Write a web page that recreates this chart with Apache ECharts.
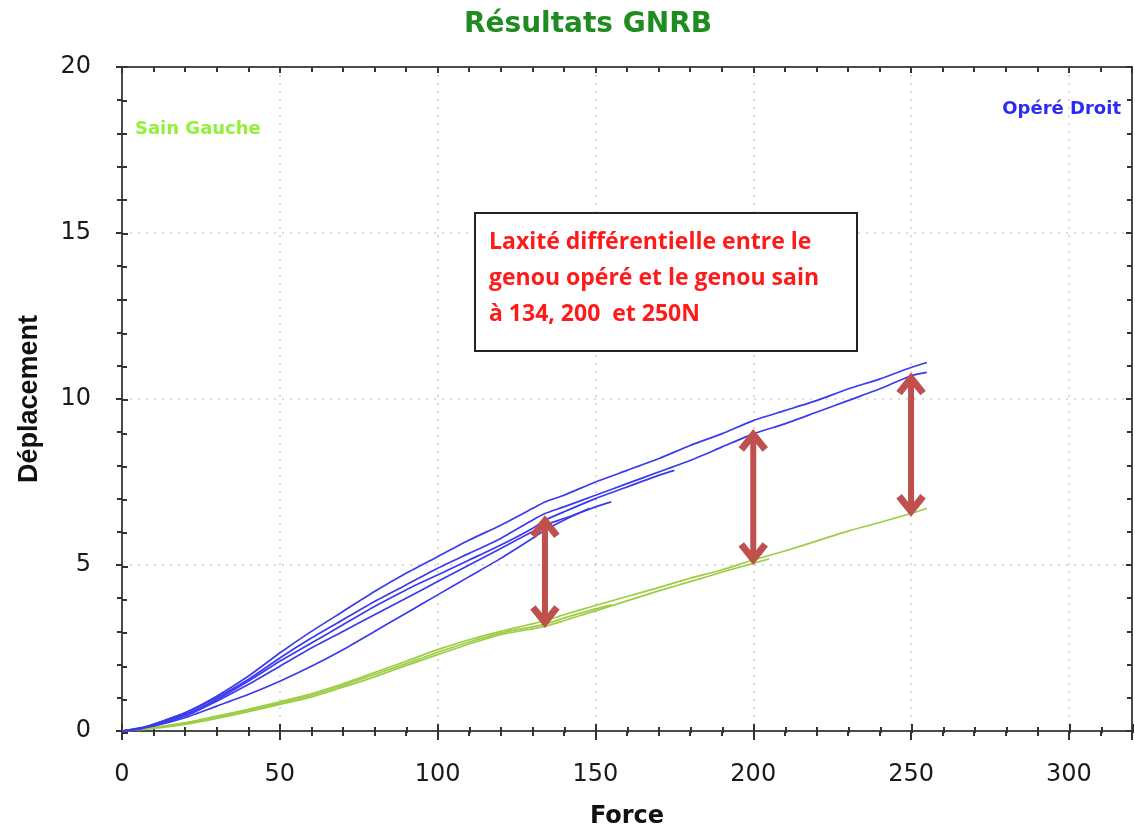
<!DOCTYPE html>
<html>
<head>
<meta charset="utf-8">
<style>
html,body{margin:0;padding:0;background:#fff;}
#c{width:1135px;height:834px;}
</style>
<script src="https://cdn.jsdelivr.net/npm/echarts@6/dist/echarts.min.js"></script>
</head>
<body>
<div id="c"></div>
<script>
// ---- data (Force [N], Déplacement [mm]) ----
const opereA = [[0,0],[5,0.05],[10,0.2],[20,0.55],[30,1.05],[40,1.65],[50,2.35],[60,3.0],[70,3.6],[80,4.2],[90,4.75],[100,5.25],[110,5.75],[120,6.2],[130,6.7],[134,6.9],[140,7.1],[150,7.5],[160,7.85],[170,8.2],[180,8.6],[190,8.95],[200,9.35],[210,9.65],[220,9.95],[230,10.3],[240,10.6],[250,10.95],[255,11.1]];
const opereB = [[0,0],[5,0.05],[10,0.2],[20,0.55],[30,1.0],[40,1.55],[50,2.2],[60,2.8],[70,3.35],[80,3.9],[90,4.4],[100,4.9],[110,5.35],[120,5.8],[130,6.35],[134,6.55],[140,6.75],[150,7.1],[160,7.45],[170,7.8],[180,8.15],[190,8.55],[200,8.95],[210,9.25],[220,9.6],[230,9.95],[240,10.3],[250,10.7],[255,10.8]];
const opereC = [[0,0],[10,0.18],[20,0.5],[30,0.95],[40,1.5],[50,2.1],[60,2.65],[70,3.2],[80,3.75],[90,4.25],[100,4.7],[110,5.15],[120,5.6],[130,6.1],[134,6.35],[140,6.6],[150,7.0],[160,7.35],[170,7.7],[175,7.85]];
const opereD = [[0,0],[10,0.15],[20,0.45],[30,0.9],[40,1.4],[50,1.95],[60,2.5],[70,3.0],[80,3.5],[90,4.0],[100,4.5],[110,5.0],[120,5.5],[130,6.0],[134,6.2],[140,6.4],[150,6.75],[155,6.9]];
const opereE = [[0,0],[10,0.15],[20,0.4],[30,0.75],[40,1.1],[50,1.5],[60,1.95],[70,2.45],[80,3.0],[90,3.55],[100,4.1],[110,4.65],[120,5.2],[130,5.8],[134,6.05],[140,6.35],[148,6.7]];
const sainA = [[0,0],[10,0.1],[20,0.25],[30,0.45],[40,0.65],[50,0.88],[60,1.12],[70,1.42],[80,1.76],[90,2.1],[100,2.45],[110,2.75],[120,3.0],[134,3.32],[140,3.5],[150,3.78],[160,4.05],[170,4.32],[180,4.6],[190,4.85],[200,5.15],[210,5.42],[220,5.72],[230,6.02],[240,6.28],[250,6.55],[255,6.7]];
const sainB = [[0,0],[10,0.08],[20,0.2],[30,0.38],[40,0.58],[50,0.8],[60,1.02],[70,1.32],[80,1.63],[90,1.97],[100,2.3],[110,2.62],[120,2.9],[134,3.15],[140,3.32],[150,3.62],[160,3.92],[170,4.22],[180,4.5],[190,4.78],[200,5.05],[205,5.18]];
const sainC = [[0,0],[10,0.1],[20,0.22],[30,0.42],[40,0.62],[50,0.84],[60,1.07],[70,1.37],[80,1.7],[90,2.03],[100,2.37],[110,2.68],[120,2.95],[134,3.22],[140,3.4],[150,3.68],[155,3.8]];
const arrowForces = [134, 200, 250];
const arrowLow = [3.15, 5.05, 6.5];
const arrowHigh = [6.45, 9.05, 10.75];
const xTicks = [0, 50, 100, 150, 200, 250, 300];
const yTicks = [0, 5, 10, 15, 20];

const titleText = 'Résultats GNRB';
const xName = 'Force';
const yName = 'Déplacement';
const labelSain = 'Sain Gauche';
const labelOpere = 'Opéré Droit';
const noteLines = ['Laxité différentielle entre le', 'genou opéré et le genou sain', 'à 134, 200  et 250N'];

const chart = echarts.init(document.getElementById('c'), null, {renderer: 'canvas'});

const G = {left: 122, top: 67, width: 1011, height: 666};
const axisCol = '#4a4a4a';
const xMin = 0, xMax = 320, yMin = 0, yMax = 20;

function xAx(pos, inside, labels, len, mlen, grid, line) {
  return {
    type: 'value', gridIndex: grid, position: pos, min: xMin, max: xMax, interval: 50,
    axisLine: {show: line, onZero: false, lineStyle: {color: axisCol, width: 2}},
    axisTick: {show: true, inside: inside, length: len, lineStyle: {color: '#333', width: 2}},
    minorTick: {show: true, splitNumber: 5, length: mlen, lineStyle: {color: '#333', width: 2}},
    axisLabel: {show: labels, margin: 32, fontFamily: 'DejaVu Sans', fontSize: 24, color: '#1a1a1a',
      formatter: v => xTicks.indexOf(v) >= 0 ? String(v) : ''},
    splitLine: {show: labels, lineStyle: {color: '#cfcfcf', type: [2, 6], width: 1.5}},
    name: labels ? xName : '', nameLocation: 'middle', nameGap: 74,
    nameTextStyle: {fontFamily: 'DejaVu Sans', fontWeight: 'bold', fontSize: 24, color: '#111'}
  };
}
function yAx(pos, inside, labels, len, mlen, grid, line) {
  return {
    type: 'value', gridIndex: grid, position: pos, min: yMin, max: yMax, interval: 5,
    axisLine: {show: line, onZero: false, lineStyle: {color: axisCol, width: 2}},
    axisTick: {show: true, inside: inside, length: len, lineStyle: {color: '#333', width: 2}},
    minorTick: {show: true, splitNumber: 5, length: mlen, lineStyle: {color: '#333', width: 2}},
    axisLabel: {show: labels, margin: 31, fontFamily: 'DejaVu Sans', fontSize: 24, color: '#1a1a1a',
      formatter: v => yTicks.indexOf(v) >= 0 ? String(v) : ''},
    splitLine: {show: labels, lineStyle: {color: '#cfcfcf', type: [2, 6], width: 1.5}},
    name: labels ? yName : '', nameLocation: 'middle', nameGap: 79,
    nameTextStyle: {fontFamily: 'Liberation Sans', fontWeight: 'bold', fontSize: 27, color: '#111'}
  };
}

function curve(data, color) {
  return {type: 'line', data: data, xAxisIndex: 0, yAxisIndex: 0, showSymbol: false, symbol: 'none',
    smooth: 0.2, lineStyle: {color: color, width: 1.7}, silent: true, z: 3};
}
const blue = '#3a3aee';
const green = '#9ccd45';
const arrowCol = '#c0504d';

const arrowData = arrowForces.map((f, i) => [f, arrowLow[i], arrowHigh[i]]);

function renderArrow(params, api) {
  const lo = api.coord([api.value(0), api.value(1)]);
  const hi = api.coord([api.value(0), api.value(2)]);
  const x = lo[0], hw = 12, hh = 15;
  const st = {stroke: arrowCol, lineWidth: 7, fill: null, lineJoin: 'miter', lineCap: 'butt'};
  return {
    type: 'group',
    children: [
      {type: 'line', shape: {x1: x, y1: lo[1] - 4, x2: x, y2: hi[1] + 4},
        style: {stroke: arrowCol, lineWidth: 6, lineCap: 'butt'}},
      {type: 'polyline', shape: {points: [[x - hw, hi[1] + hh + 4], [x, hi[1] + 4], [x + hw, hi[1] + hh + 4]]}, style: st},
      {type: 'polyline', shape: {points: [[x - hw, lo[1] - hh - 4], [x, lo[1] - 4], [x + hw, lo[1] - hh - 4]]}, style: st}
    ]
  };
}

const option = {
  backgroundColor: '#fff',
  animation: false,
  title: {text: titleText, left: 583, top: 6, textAlign: 'center',
    textStyle: {fontFamily: 'DejaVu Sans', fontWeight: 'bold', fontSize: 28, color: '#1e8c1e'}},
  grid: [Object.assign({containLabel: false}, G), Object.assign({containLabel: false}, G)],
  xAxis: [xAx('bottom', false, true, 9, 5, 0, true), xAx('top', true, false, 6, 5, 0, true), xAx('bottom', true, false, 9, 6, 1, false)],
  yAxis: [yAx('left', false, true, 6, 5, 0, true), yAx('right', true, false, 6, 5, 0, true), yAx('left', true, false, 6, 5, 1, false)],
  series: [
    curve(sainB, green), curve(sainC, green), curve(sainA, green),
    curve(opereE, blue), curve(opereD, blue), curve(opereC, blue), curve(opereB, blue), curve(opereA, blue),
    {type: 'custom', data: arrowData, xAxisIndex: 0, yAxisIndex: 0, z: 5, silent: true,
      encode: {x: 0, y: [1, 2]}, renderItem: renderArrow}
  ],
  graphic: [
    {type: 'text', left: 135, top: 120, style: {text: labelSain, fill: '#92f03a', font: 'bold 18px "DejaVu Sans", sans-serif'}},
    {type: 'text', right: 14, top: 100, style: {text: labelOpere, fill: '#2b2bf5', font: 'bold 18px "DejaVu Sans", sans-serif'}},
    {type: 'rect', left: 474, top: 212, shape: {width: 382, height: 138},
      style: {fill: '#fff', stroke: '#222', lineWidth: 2}, z: 10},
    {type: 'text', left: 489, top: 224, z: 11,
      style: {text: noteLines.join('\n'), fill: '#ff1a1a', font: 'bold 23px "Open Sans", sans-serif', lineHeight: 36}}
  ]
};
chart.setOption(option);
</script>
</body>
</html>
